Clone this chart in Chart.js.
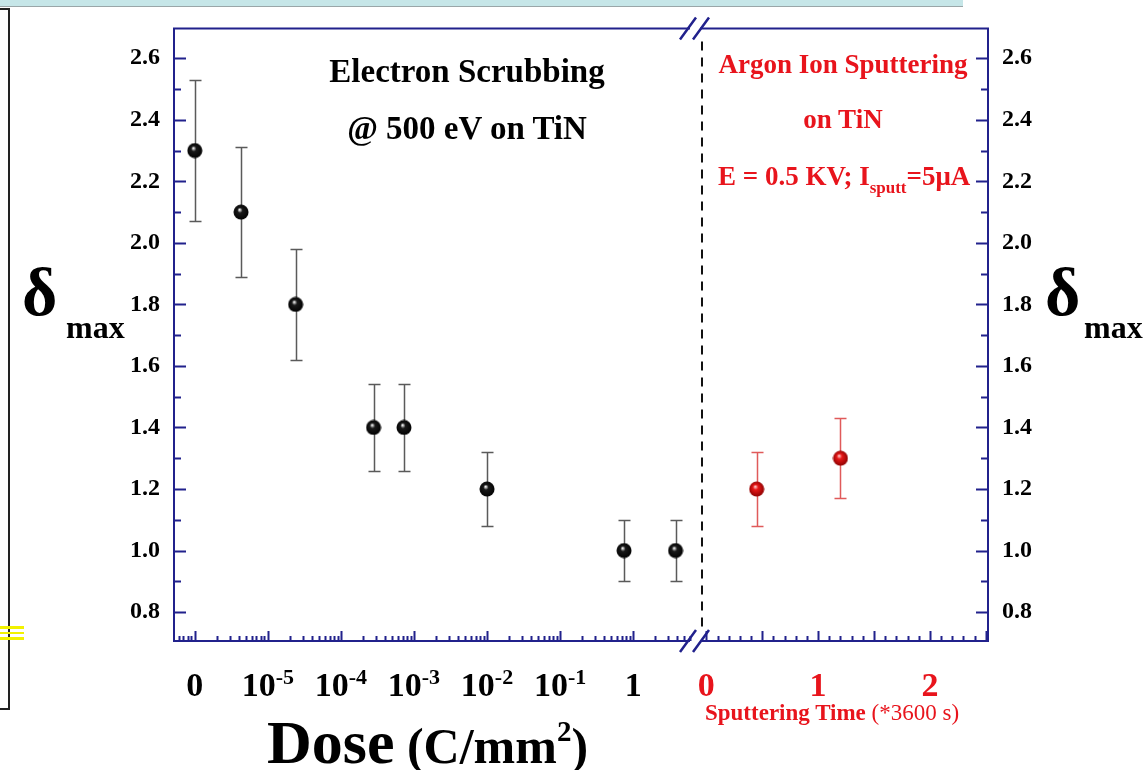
<!DOCTYPE html>
<html>
<head>
<meta charset="utf-8">
<title>delta max vs dose</title>
<script src="https://cdn.jsdelivr.net/npm/chart.js@4.4.1/dist/chart.umd.min.js"></script>
<style>
  html, body { margin: 0; padding: 0; background: #fff; }
  #page { position: relative; width: 1147px; height: 770px; overflow: hidden;
          font-family: "Liberation Serif", "Times New Roman", serif; }
  canvas { position: absolute; top: 0; }
  #leftChart { left: 0; }
  #rightChart { left: 690px; }
  .txt { position: absolute; white-space: nowrap; line-height: 1; font-weight: bold; color: #000; }
  .red { color: #e8141c; }
  .mid { transform: translateX(-50%); }
  /* slide leftovers around the plot */
  #topbar { position: absolute; left: 0; top: 0; width: 963px; height: 6px; background: #c6e6e8; border-bottom: 1px solid #9aa6a8; }
  #frame { position: absolute; left: -4px; top: 8px; width: 12px; height: 698px; border: 2px solid #222; border-left: none; }
  .hl { position: absolute; left: 0; width: 24px; background: #f2f200; }
</style>
</head>
<body>
<div id="page">
  <div id="topbar"></div>
  <div id="frame"></div>
  <div class="hl" style="top:626px;height:3px"></div>
  <div class="hl" style="top:632px;height:2px"></div>
  <div class="hl" style="top:637px;height:3px"></div>

  <canvas id="leftChart" width="720" height="770"></canvas>
  <canvas id="rightChart" width="457" height="770"></canvas>

  <div class="txt mid" style="left:467px;top:55px;font-size:33px">Electron Scrubbing</div>
  <div class="txt mid" style="left:467px;top:112px;font-size:33px">@ 500 eV on TiN</div>

  <div class="txt red mid" style="left:843px;top:51px;font-size:27px">Argon Ion Sputtering</div>
  <div class="txt red mid" style="left:843px;top:106px;font-size:27px">on TiN</div>
  <div class="txt red" style="left:718px;top:163px;font-size:27px">E = 0.5 KV; I<span style="font-size:17px;position:relative;top:8px">sputt</span>=5&mu;A</div>

  <div class="txt" style="left:22px;top:258px;font-size:68px">&delta;</div>
  <div class="txt" style="left:66px;top:311px;font-size:32px">max</div>
  <div class="txt" style="left:1045px;top:258px;font-size:68px">&delta;</div>
  <div class="txt" style="left:1084px;top:311px;font-size:32px">max</div>

  <div class="txt" style="left:267px;top:711px;font-size:62px">Dose<span style="font-size:50px"> (C/mm<span style="font-size:29px;position:relative;top:-22px">2</span>)</span></div>
  <div class="txt red" style="left:705px;top:701px;font-size:23px">Sputtering Time <span style="font-weight:normal">(*3600 s)</span></div>
</div>

<script>
const BLUE = "#21218c";
const RED = "#e8141c";
const SERIF = '"Liberation Serif", "Times New Roman", serif';

// axis ticks
const yTicks = [0.8, 1.0, 1.2, 1.4, 1.6, 1.8, 2.0, 2.2, 2.4, 2.6];
const doseTicks = [1e-6, 1e-5, 1e-4, 1e-3, 1e-2, 1e-1, 1];
const doseTickBase = ["0", "10", "10", "10", "10", "10", "1"];
const doseTickExp = ["", "-5", "-4", "-3", "-2", "-1", ""];
const timeTicks = [0, 1, 2];

// electron scrubbing; the fresh sample (dose 0) sits in the 1e-6 slot
const doses = [1e-6, 4.3e-6, 2.4e-5, 2.8e-4, 7.3e-4, 1.0e-2, 0.75, 3.8];
const deltaScrub = [2.30, 2.10, 1.80, 1.40, 1.40, 1.20, 1.00, 1.00];
const errScrub = [0.23, 0.21, 0.18, 0.14, 0.14, 0.12, 0.10, 0.10];

// argon sputtering, time in units of 3600 s
const sputterTime = [0.45, 1.2];
const deltaSputter = [1.20, 1.30];
const errSputter = [0.12, 0.13];

// shaded ball used as marker
function makeBall(light, body, edge) {
  const c = document.createElement("canvas");
  c.width = c.height = 16;
  const g = c.getContext("2d");
  const grad = g.createRadialGradient(6.5, 5.5, 0.3, 8, 8, 8);
  grad.addColorStop(0, light);
  grad.addColorStop(0.3, body);
  grad.addColorStop(1, edge);
  g.fillStyle = grad;
  g.beginPath();
  g.arc(8, 8, 7.5, 0, Math.PI * 2);
  g.fill();
  return c;
}

function yScale(position, width) {
  return {
    type: "linear",
    position: position,
    min: 0.706,
    max: 2.697,
    grid: { display: false, drawTicks: false },
    border: { display: false },
    afterBuildTicks: (s) => { s.ticks = yTicks.map((v) => ({ value: v })); },
    afterFit: (s) => { s.width = width; },
    ticks: {
      padding: 14,
      color: "#000",
      font: { family: SERIF, size: 24, weight: "bold" },
      callback: (v) => Number(v).toFixed(1)
    }
  };
}

// vertical error bars with caps
const errorBars = {
  id: "errorBars",
  beforeDatasetsDraw(chart) {
    const ctx = chart.ctx;
    const ys = chart.scales.y;
    chart.data.datasets.forEach((ds, i) => {
      const meta = chart.getDatasetMeta(i);
      ctx.save();
      ctx.strokeStyle = ds.errorColor;
      ctx.lineWidth = 1.5;
      ctx.beginPath();
      meta.data.forEach((pt, j) => {
        const v = ds.data[j].y;
        const e = ds.errors[j];
        const px = Math.round(pt.x) + 0.5;
        const top = Math.round(ys.getPixelForValue(v + e)) + 0.5;
        const bot = Math.round(ys.getPixelForValue(v - e)) + 0.5;
        ctx.moveTo(px, top); ctx.lineTo(px, bot);
        ctx.moveTo(px - 6, top); ctx.lineTo(px + 6, top);
        ctx.moveTo(px - 6, bot); ctx.lineTo(px + 6, bot);
      });
      ctx.stroke();
      ctx.restore();
    });
  }
};

function yTickMarks(ctx, y, xEdge, dir) {
  yTicks.forEach((v, i) => {
    const py = Math.round(y.getPixelForValue(v)) + 0.5;
    ctx.moveTo(xEdge, py); ctx.lineTo(xEdge + dir * 12, py);
    if (i < yTicks.length - 1) {
      const pm = Math.round(y.getPixelForValue((v + yTicks[i + 1]) / 2)) + 0.5;
      ctx.moveTo(xEdge, pm); ctx.lineTo(xEdge + dir * 7, pm);
    }
  });
}

function slash(ctx, cx, cy) {
  ctx.moveTo(cx - 8, cy + 11);
  ctx.lineTo(cx + 8, cy - 11);
}

// frame, inward ticks, break marks and dose labels
const leftAxes = {
  id: "leftAxes",
  afterDraw(chart) {
    const { ctx, chartArea: a, scales } = chart;
    const x = scales.x, y = scales.y;
    ctx.save();
    ctx.strokeStyle = BLUE;
    ctx.lineWidth = 2;
    ctx.beginPath();
    ctx.moveTo(a.right, a.top); ctx.lineTo(a.left, a.top);
    ctx.lineTo(a.left, a.bottom); ctx.lineTo(a.right, a.bottom);
    yTickMarks(ctx, y, a.left, 1);
    for (let e = -7; e <= 0; e++) {
      for (let k = 1; k <= 9; k++) {
        const v = k * Math.pow(10, e);
        if (v < x.min || v > x.max) continue;
        const px = Math.round(x.getPixelForValue(v)) + 0.5;
        ctx.moveTo(px, a.bottom); ctx.lineTo(px, a.bottom - (k === 1 ? 10 : 5));
      }
    }
    ctx.stroke();

    ctx.lineWidth = 2.5;
    ctx.beginPath();
    slash(ctx, a.right - 2, a.top); slash(ctx, a.right + 11, a.top);
    slash(ctx, a.right - 2, a.bottom); slash(ctx, a.right + 11, a.bottom);
    ctx.stroke();

    // dose labels with superscript exponents
    const big = "bold 34px " + SERIF, small = "bold 22px " + SERIF;
    const base = a.bottom + 55;
    ctx.fillStyle = "#000";
    ctx.textAlign = "left";
    ctx.textBaseline = "alphabetic";
    doseTicks.forEach((v, i) => {
      ctx.font = big;
      const w1 = ctx.measureText(doseTickBase[i]).width;
      ctx.font = small;
      const w2 = doseTickExp[i] ? ctx.measureText(doseTickExp[i]).width : 0;
      const x0 = x.getPixelForValue(v) - (w1 + w2) / 2;
      ctx.font = big;
      ctx.fillText(doseTickBase[i], x0, base);
      if (w2) {
        ctx.font = small;
        ctx.fillText(doseTickExp[i], x0 + w1, base - 12);
      }
    });
    ctx.restore();
  }
};

const rightAxes = {
  id: "rightAxes",
  afterDraw(chart) {
    const { ctx, chartArea: a, scales } = chart;
    const x = scales.x, y = scales.y;
    ctx.save();
    // separator between the two experiments
    ctx.strokeStyle = "#111";
    ctx.lineWidth = 2;
    ctx.setLineDash([9, 7]);
    ctx.beginPath();
    ctx.moveTo(a.left - 1, a.top + 13); ctx.lineTo(a.left - 1, a.bottom - 8);
    ctx.stroke();
    ctx.setLineDash([]);

    ctx.strokeStyle = BLUE;
    ctx.beginPath();
    ctx.moveTo(a.left - 3, a.top); ctx.lineTo(a.right, a.top);
    ctx.lineTo(a.right, a.bottom); ctx.lineTo(a.left - 3, a.bottom);
    yTickMarks(ctx, y, a.right, -1);
    for (let i = 0; i / 10 <= x.max; i++) {
      const px = Math.round(x.getPixelForValue(i / 10)) + 0.5;
      ctx.moveTo(px, a.bottom); ctx.lineTo(px, a.bottom - (i % 5 === 0 ? 10 : 5));
    }
    ctx.stroke();

    ctx.fillStyle = RED;
    ctx.font = "bold 34px " + SERIF;
    ctx.textAlign = "center";
    ctx.textBaseline = "alphabetic";
    timeTicks.forEach((v) => {
      ctx.fillText(String(v), x.getPixelForValue(v), a.bottom + 55);
    });
    ctx.restore();
  }
};

const common = {
  responsive: false,
  animation: false,
  devicePixelRatio: 1,
  events: [],
  plugins: { legend: { display: false }, tooltip: { enabled: false } }
};

new Chart(document.getElementById("leftChart"), {
  type: "scatter",
  data: {
    datasets: [{
      data: doses.map((d, i) => ({ x: d, y: deltaScrub[i] })),
      errors: errScrub,
      errorColor: "#5a5a5a",
      pointStyle: makeBall("#ffffff", "#1a1a1a", "#000000"),
      pointRadius: 8
    }]
  },
  options: Object.assign({}, common, {
    layout: { padding: { left: 0, right: 30, top: 25, bottom: 0 } },
    scales: {
      x: {
        type: "logarithmic",
        min: 5.2e-7,
        max: 6.0,
        grid: { display: false, drawTicks: false },
        border: { display: false },
        ticks: { display: false },
        afterBuildTicks: (s) => { s.ticks = doseTicks.map((v) => ({ value: v })); },
        afterFit: (s) => { s.height = 129; }
      },
      y: yScale("left", 174)
    }
  }),
  plugins: [errorBars, leftAxes]
});

new Chart(document.getElementById("rightChart"), {
  type: "scatter",
  data: {
    datasets: [{
      data: sputterTime.map((t, i) => ({ x: t, y: deltaSputter[i] })),
      errors: errSputter,
      errorColor: "#e05a5a",
      pointStyle: makeBall("#ffd0d0", "#e81818", "#8a0000"),
      pointRadius: 8
    }]
  },
  options: Object.assign({}, common, {
    layout: { padding: { left: 13, right: 0, top: 25, bottom: 0 } },
    scales: {
      x: {
        type: "linear",
        min: -0.03,
        max: 2.52,
        grid: { display: false, drawTicks: false },
        border: { display: false },
        ticks: { display: false },
        afterBuildTicks: (s) => { s.ticks = timeTicks.map((v) => ({ value: v })); },
        afterFit: (s) => { s.height = 129; }
      },
      y: yScale("right", 159)
    }
  }),
  plugins: [errorBars, rightAxes]
});
</script>
</body>
</html>
